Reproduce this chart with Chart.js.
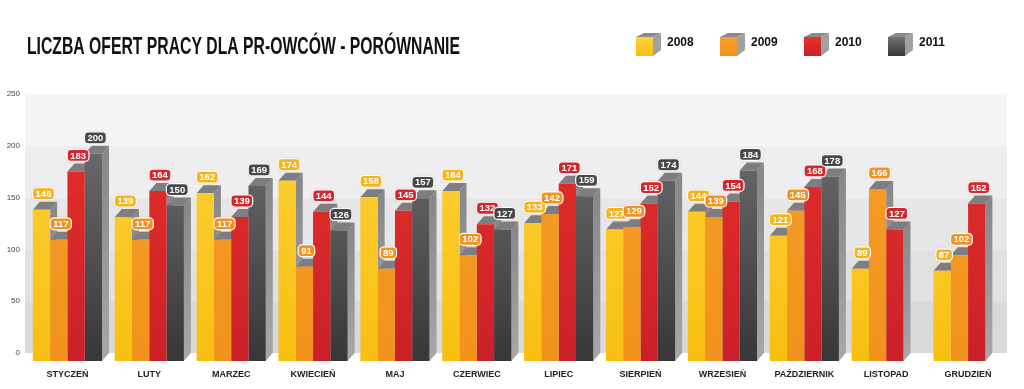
<!DOCTYPE html>
<html>
<head>
<meta charset="utf-8">
<script src="https://cdn.jsdelivr.net/npm/chart.js@4"></script>
<style>
  html, body { margin: 0; padding: 0; background: #fff; }
  #wrap { width: 1024px; height: 389px; }
</style>
</head>
<body>
<div id="wrap"><canvas id="chart" width="1024" height="389"></canvas></div>
<script>
const months = ['STYCZEŃ', 'LUTY', 'MARZEC', 'KWIECIEŃ', 'MAJ', 'CZERWIEC', 'LIPIEC', 'SIERPIEŃ', 'WRZESIEŃ', 'PAŹDZIERNIK', 'LISTOPAD', 'GRUDZIEŃ'];
const years = ['2008', '2009', '2010', '2011'];
const values2008 = [146, 139, 162, 174, 158, 164, 133, 127, 144, 121, 89, 87];
const values2009 = [117, 117, 117, 91, 89, 102, 142, 129, 139, 145, 166, 102];
const values2010 = [183, 164, 139, 144, 145, 132, 171, 152, 154, 168, 127, 152];
const values2011 = [200, 150, 169, 126, 157, 127, 159, 174, 184, 178, null, null];
const yTicks = [0, 50, 100, 150, 200, 250];

const title = 'LICZBA OFERT PRACY DLA PR-OWCÓW - PORÓWNANIE';

// front colours top -> bottom, badge colour
const palette = [
    { top: '#fdd23c', bottom: '#f8bf10', badge: '#f4b41c' },
    { top: '#f6a02a', bottom: '#f1921c', badge: '#f29222' },
    { top: '#e8302a', bottom: '#c92129', badge: '#d3272d' },
    { top: '#747477', bottom: '#37373a', badge: '#48484a' }
];
const DX = 7, DY = 8;   // 3d depth

const frontFill = (i) => (ctx) => {
    const area = ctx.chart.chartArea;
    if (!area) return palette[i].bottom;
    const g = ctx.chart.ctx.createLinearGradient(0, area.top, 0, area.bottom);
    g.addColorStop(0, palette[i].top);
    g.addColorStop(1, palette[i].bottom);
    return g;
};

const roundRect = (c, x, y, w, h, r) => {
    c.beginPath();
    c.moveTo(x + r, y);
    c.arcTo(x + w, y, x + w, y + h, r);
    c.arcTo(x + w, y + h, x, y + h, r);
    c.arcTo(x, y + h, x, y, r);
    c.arcTo(x, y, x + w, y, r);
    c.closePath();
};

const decor = {
    id: 'decor',
    beforeDraw(chart) {
        const c = chart.ctx;
        const area = chart.chartArea;
        const ys = chart.scales.y;
        c.save();
        // back wall bands
        const bands = ['#d9d9dc', '#e1e1e4', '#e7e7ea', '#eeeef0', '#f5f5f7'];
        for (let k = 0; k < yTicks.length - 1; k++) {
            const y1 = ys.getPixelForValue(yTicks[k + 1]) - DY;
            const y2 = ys.getPixelForValue(yTicks[k]) - DY;
            c.fillStyle = bands[k];
            c.fillRect(area.left - 1.5, y1, area.right - area.left - 0.5, y2 - y1);
        }
        // y tick labels (on the back wall)
        c.fillStyle = '#444';
        c.font = '8px "Liberation Sans", Arial, sans-serif';
        c.textAlign = 'right';
        c.textBaseline = 'middle';
        yTicks.forEach(v => c.fillText(String(v), 20, ys.getPixelForValue(v) - DY));

        // title
        c.fillStyle = '#111';
        c.font = 'bold 23px "Liberation Sans Narrow", "Liberation Sans", sans-serif';
        c.textAlign = 'left';
        c.textBaseline = 'alphabetic';
        c.fillText(title, 27, 54, 433);

        // legend cubes
        c.font = 'bold 12px "Liberation Sans Narrow", "Liberation Sans", sans-serif';
        c.textBaseline = 'middle';
        years.forEach((yr, i) => {
            const x = 636 + i * 84, y = 37, w = 17, h = 19, d = 8;
            c.fillStyle = '#8a8a8d';
            c.beginPath();
            c.moveTo(x, y); c.lineTo(x + d, y - 4); c.lineTo(x + w + d, y - 4); c.lineTo(x + w, y);
            c.closePath(); c.fill();
            c.fillStyle = '#a0a0a3';
            c.beginPath();
            c.moveTo(x + w, y); c.lineTo(x + w + d, y - 4); c.lineTo(x + w + d, y + h - 6); c.lineTo(x + w, y + h);
            c.closePath(); c.fill();
            const g = c.createLinearGradient(0, y, 0, y + h);
            g.addColorStop(0, palette[i].top);
            g.addColorStop(1, palette[i].bottom);
            c.fillStyle = g;
            c.fillRect(x, y, w, h);
            c.fillStyle = '#111';
            c.fillText(yr, x + 31, 43);
        });
        c.restore();
    },
    beforeDatasetsDraw(chart) {
        const c = chart.ctx;
        c.save();
        chart.data.datasets.forEach((ds, i) => {
            const meta = chart.getDatasetMeta(i);
            meta.data.forEach((bar, j) => {
                if (ds.data[j] == null) return;
                const { x, y, base, width } = bar.getProps(['x', 'y', 'base', 'width'], true);
                const l = x - width / 2, r = x + width / 2;
                // side face
                const gs = c.createLinearGradient(0, y, 0, base);
                gs.addColorStop(0, '#88888b');
                gs.addColorStop(1, '#a8a8ab');
                c.fillStyle = gs;
                c.beginPath();
                c.moveTo(r, y); c.lineTo(r + DX, y - DY); c.lineTo(r + DX, base - DY); c.lineTo(r, base);
                c.closePath(); c.fill();
                // top face
                c.fillStyle = '#7e7e81';
                c.beginPath();
                c.moveTo(l, y); c.lineTo(l + DX, y - DY); c.lineTo(r + DX, y - DY); c.lineTo(r, y);
                c.closePath(); c.fill();
            });
        });
        c.restore();
    },
    afterDatasetsDraw(chart) {
        const c = chart.ctx;
        c.save();
        c.font = 'bold 9.5px "Liberation Sans Narrow", "Liberation Sans", sans-serif';
        c.textAlign = 'center';
        c.textBaseline = 'middle';
        chart.data.datasets.forEach((ds, i) => {
            const meta = chart.getDatasetMeta(i);
            meta.data.forEach((bar, j) => {
                const v = ds.data[j];
                if (v == null) return;
                const { x, y } = bar.getProps(['x', 'y'], true);
                const txt = String(v);
                const w = c.measureText(txt).width + 6, h = 12;
                const cx = x + 2, cy = y - 16;
                c.shadowColor = 'rgba(0,0,0,0.25)';
                c.shadowBlur = 2;
                roundRect(c, cx - w / 2, cy - h / 2, w, h, 4);
                c.fillStyle = palette[i].badge;
                c.fill();
                c.shadowColor = 'transparent';
                c.lineWidth = 1.2;
                c.strokeStyle = '#fff';
                c.stroke();
                c.fillStyle = '#fff';
                c.fillText(txt, cx, cy + 0.5);
            });
        });
        c.restore();
    }
};

const seriesValues = [values2008, values2009, values2010, values2011];

new Chart(document.getElementById('chart'), {
    type: 'bar',
    data: {
        labels: months,
        datasets: years.map((yr, i) => ({
            label: yr,
            data: seriesValues[i],
            backgroundColor: frontFill(i),
            borderWidth: 0,
            categoryPercentage: 0.845,
            barPercentage: 1.0
        }))
    },
    options: {
        responsive: false,
        animation: false,
        layout: { padding: { left: 26.5, right: 15, top: 102, bottom: 0 } },
        plugins: {
            legend: { display: false },
            tooltip: { enabled: false },
            title: { display: false }
        },
        scales: {
            x: {
                grid: { display: false, drawTicks: false },
                border: { display: false },
                ticks: {
                    color: '#222',
                    padding: 8,
                    maxRotation: 0,
                    autoSkip: false,
                    font: { family: '"Liberation Sans Narrow", "Liberation Sans", sans-serif', weight: 'bold', size: 9 }
                },
                afterFit(scale) { scale.height = 28; }
            },
            y: {
                display: false,
                min: 0,
                max: 250
            }
        }
    },
    plugins: [decor]
});
</script>
</body>
</html>
